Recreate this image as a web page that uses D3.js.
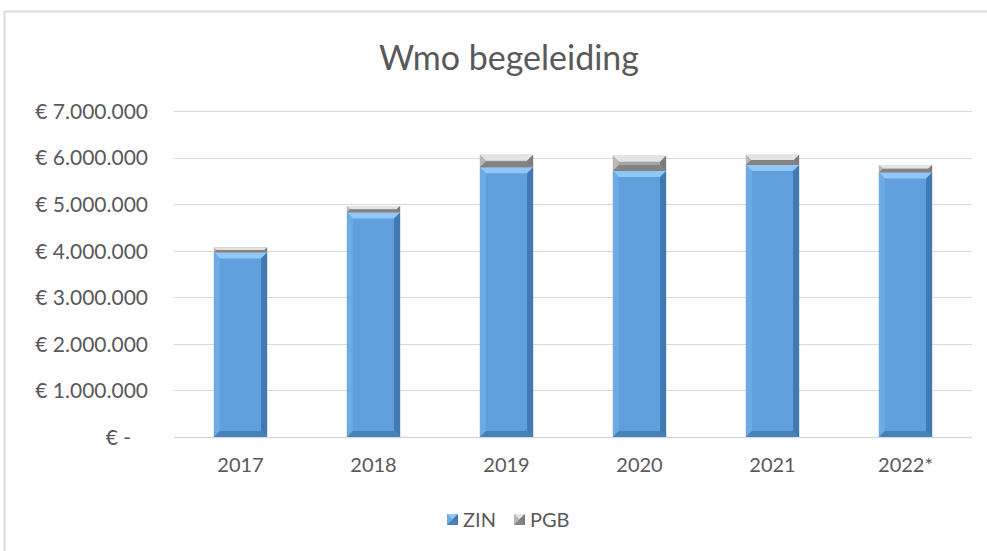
<!DOCTYPE html>
<html>
<head>
<meta charset="utf-8">
<script src="https://cdn.jsdelivr.net/npm/d3@7"></script>
<style>
  body { margin: 0; background: #fff; }
  svg, svg text { font-family: Lato, "Noto Sans", sans-serif; }
</style>
</head>
<body>
<div id="chart"></div>
<script>
const years = ['2017', '2018', '2019', '2020', '2021', '2022*'];
const zin = [3960000, 4820000, 5790000, 5710000, 5840000, 5680000];
const pgb = [110000, 140000, 270000, 330000, 220000, 160000];
const seriesNames = ['ZIN', 'PGB'];
const yTicks = [0, 1000000, 2000000, 3000000, 4000000, 5000000, 6000000, 7000000];

const width = 987, height = 551;
const margin = { top: 111, right: 15, bottom: 114, left: 174 };

const svg = d3.select('#chart').append('svg')
  .attr('width', width)
  .attr('height', height);

// rand van het kader
svg.append('path')
  .attr('d', `M4.5,${height + 2} V11.5 H${width + 2}`)
  .attr('fill', 'none')
  .attr('stroke', '#d9d9d9')
  .attr('stroke-width', 2);

svg.append('text')
  .attr('x', 509)
  .attr('y', 70)
  .attr('text-anchor', 'middle')
  .style('font-size', '34px')
  .style('fill', '#595959')
  .text('Wmo begeleiding');

const x = d3.scaleBand()
  .domain(years)
  .range([margin.left, width - margin.right])
  .paddingInner(0.6)
  .paddingOuter(0.3);

const y = d3.scaleLinear()
  .domain([0, 7000000])
  .range([height - margin.bottom, margin.top]);

// gridlijnen
svg.append('g')
  .selectAll('line')
  .data(yTicks)
  .enter()
  .append('line')
  .attr('x1', margin.left)
  .attr('x2', width - margin.right)
  .attr('y1', d => Math.round(y(d)) + 0.5)
  .attr('y2', d => Math.round(y(d)) + 0.5)
  .attr('stroke', '#d9d9d9')
  .attr('stroke-width', d => d === 0 ? 1.5 : 1);

const fmt = v => v === 0 ? '€ -' : '€ ' + d3.format(',')(v).replace(/,/g, '.');

const yAxis = svg.append('g')
  .attr('transform', `translate(${margin.left - 26},0)`)
  .call(d3.axisLeft(y).tickValues(yTicks).tickFormat(fmt).tickSize(0));
yAxis.attr('font-family', null);
yAxis.select('.domain').remove();
yAxis.selectAll('text')
  .style('font-size', '21px')
  .style('fill', '#595959')
  .attr('dy', '0.35em')
  .attr('x', d => d === 0 ? -17 : 0);

const xAxis = svg.append('g')
  .attr('transform', `translate(0,${height - margin.bottom + 18})`)
  .call(d3.axisBottom(x).tickSize(0));
xAxis.attr('font-family', null);
xAxis.select('.domain').remove();
xAxis.selectAll('text')
  .style('font-size', '20px')
  .style('fill', '#595959');

const palette = {
  ZIN: { base: '#5e9fdc', light: '#8fc7f7', side: '#6eaae4', dark: '#4279b2' },
  PGB: { base: '#a5a5a5', light: '#e4e4e4', side: '#b8b8b8', dark: '#7b7b7b' }
};

// afgeschuinde balk
function bevelBar(g, x0, y0, w, h, c) {
  const b = Math.min(6, h / 2, w / 2);
  g.append('rect').attr('x', x0).attr('y', y0).attr('width', w).attr('height', h).attr('fill', c.base);
  const x1 = x0 + w, y1 = y0 + h;
  g.append('polygon').attr('points', `${x0},${y0} ${x1},${y0} ${x1 - b},${y0 + b} ${x0 + b},${y0 + b}`).attr('fill', c.light);
  g.append('polygon').attr('points', `${x0},${y0} ${x0 + b},${y0 + b} ${x0 + b},${y1 - b} ${x0},${y1}`).attr('fill', c.side);
  g.append('polygon').attr('points', `${x1},${y0} ${x1},${y1} ${x1 - b},${y1 - b} ${x1 - b},${y0 + b}`).attr('fill', c.dark);
  g.append('polygon').attr('points', `${x0},${y1} ${x1},${y1} ${x1 - b},${y1 - b} ${x0 + b},${y1 - b}`).attr('fill', c.dark).attr('opacity', 0.8);
}

const data = years.map((yr, i) => ({ year: yr, ZIN: zin[i], PGB: pgb[i] }));
const stacked = d3.stack().keys(seriesNames)(data);

stacked.forEach(layer => {
  const c = palette[layer.key];
  layer.forEach(d => {
    const g = svg.append('g');
    bevelBar(g, x(d.data.year), y(d[1]), x.bandwidth(), y(d[0]) - y(d[1]), c);
  });
});

// legenda
const legend = svg.append('g').attr('transform', 'translate(447,514)');
const items = legend.selectAll('.legend-item')
  .data(seriesNames)
  .enter()
  .append('g')
  .attr('class', 'legend-item')
  .attr('transform', (d, i) => `translate(${i * 67},0)`);

items.each(function (d) {
  bevelBar(d3.select(this), 0, 0, 11, 11, palette[d]);
});

items.append('text')
  .attr('x', 16)
  .attr('y', 13)
  .text(d => d)
  .style('font-size', '20px')
  .style('fill', '#595959');
</script>
</body>
</html>
